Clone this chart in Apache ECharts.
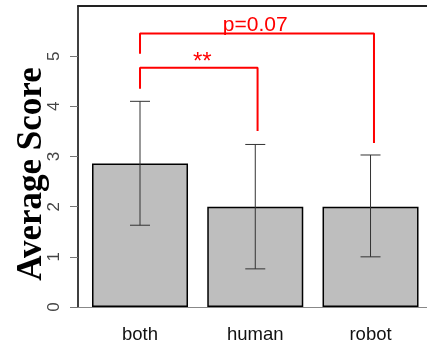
<!DOCTYPE html>
<html>
<head>
<meta charset="utf-8">
<script src="https://cdn.jsdelivr.net/npm/echarts@6/dist/echarts.min.js"></script>
<style>
  html, body { margin: 0; padding: 0; background: #fff; }
  #score-chart { width: 427px; height: 345px; }
</style>
</head>
<body>
<div id="score-chart"></div>
<script>
    // data
    var categories = ['both', 'human', 'robot'];
    var means = [2.86, 2.0, 2.0];
    var lowers = [1.63, 0.76, 1.0];
    var uppers = [4.1, 3.24, 3.03];
    var yTicks = [0, 1, 2, 3, 4, 5];
    var catPos = [1, 2, 3];

    // significance brackets
    var bracketOuter = [[1, 5.05], [1, 5.45], [3.03, 5.45], [3.03, 3.27]];
    var bracketInner = [[1, 4.35], [1, 4.77], [2.02, 4.77], [2.02, 3.51]];
    var sigTexts = ['**', 'p=0.07'];
    var sigPos = [[1.54, 4.88], [2.0, 5.62]];

    var chart = echarts.init(document.getElementById('score-chart'));

    var xMin = 0.462, xMax = 3.49;

    var option = {
        animation: false,
        grid: {
            left: 78,
            right: 0,
            top: 6,
            bottom: 38,
            outerBoundsMode: 'none'
        },
        xAxis: [
            {
                type: 'value',
                min: xMin,
                max: xMax,
                splitLine: { show: false },
                axisLine: {
                    lineStyle: { color: '#888', width: 1 }
                },
                axisTick: { show: false },
                axisLabel: {
                    customValues: catPos,
                    margin: 18,
                    fontFamily: 'Liberation Sans, Arial, sans-serif',
                    fontSize: 18.5,
                    color: '#111',
                    formatter: function (v) {
                        return categories[Math.round(v) - 1];
                    }
                }
            },
            {
                // top border of the plot box
                type: 'value',
                position: 'top',
                min: xMin,
                max: xMax,
                splitLine: { show: false },
                axisLine: {
                    onZero: false,
                    lineStyle: { color: '#222', width: 2 }
                },
                axisTick: { show: false },
                axisLabel: { show: false }
            }
        ],
        yAxis: {
            type: 'value',
            min: 0,
            max: 6,
            interval: 1,
            name: 'Average Score',
            nameLocation: 'middle',
            nameRotate: 90,
            nameGap: 29,
            nameMoveOverlap: false,
            nameTextStyle: {
                fontFamily: 'Liberation Serif, Times New Roman, serif',
                fontWeight: 'bold',
                fontSize: 35,
                color: '#000',
                padding: [0, 35, 0, 0]
            },
            splitLine: { show: false },
            axisLine: {
                show: true,
                lineStyle: { color: '#000', width: 1.5 }
            },
            axisTick: {
                show: true,
                length: 8,
                customValues: yTicks,
                lineStyle: { color: '#777', width: 1 }
            },
            axisLabel: {
                customValues: yTicks,
                rotate: 90,
                margin: 15,
                fontFamily: 'Liberation Sans, Arial, sans-serif',
                fontSize: 17,
                color: '#444'
            }
        },
        series: [
            {
                name: 'mean',
                type: 'bar',
                barWidth: 96,
                data: means.map(function (v, i) { return [catPos[i], v]; }),
                itemStyle: {
                    color: '#bebebe',
                    borderColor: '#000',
                    borderWidth: 1.5
                }
            },
            {
                name: 'error',
                type: 'custom',
                z: 5,
                data: means.map(function (v, i) { return [catPos[i], lowers[i], uppers[i]]; }),
                encode: { x: 0, y: [1, 2] },
                renderItem: function (params, api) {
                    var lo = api.coord([api.value(0), api.value(1)]);
                    var hi = api.coord([api.value(0), api.value(2)]);
                    var hw = 10;
                    var style = { stroke: '#333', lineWidth: 1 };
                    return {
                        type: 'group',
                        children: [
                            { type: 'line', shape: { x1: hi[0], y1: hi[1], x2: lo[0], y2: lo[1] }, style: style },
                            { type: 'line', shape: { x1: hi[0] - hw, y1: hi[1], x2: hi[0] + hw, y2: hi[1] }, style: style },
                            { type: 'line', shape: { x1: lo[0] - hw, y1: lo[1], x2: lo[0] + hw, y2: lo[1] }, style: style }
                        ]
                    };
                }
            },
            {
                name: 'outer',
                type: 'line',
                z: 6,
                symbol: 'none',
                data: bracketOuter,
                lineStyle: { color: '#ff0000', width: 2 }
            },
            {
                name: 'inner',
                type: 'line',
                z: 6,
                symbol: 'none',
                data: bracketInner,
                lineStyle: { color: '#ff0000', width: 2 }
            },
            {
                name: 'sig',
                type: 'custom',
                z: 7,
                data: sigPos.map(function (p, i) { return [p[0], p[1], i]; }),
                renderItem: function (params, api) {
                    var pt = api.coord([api.value(0), api.value(1)]);
                    var idx = api.value(2);
                    return {
                        type: 'text',
                        x: pt[0],
                        y: pt[1],
                        style: {
                            text: sigTexts[idx],
                            fill: '#ff0000',
                            font: (idx === 0 ? '24px' : '21px') + ' "Liberation Sans", Arial, sans-serif',
                            align: 'center',
                            verticalAlign: 'middle'
                        }
                    };
                }
            }
        ]
    };

    chart.setOption(option);
</script>
</body>
</html>
